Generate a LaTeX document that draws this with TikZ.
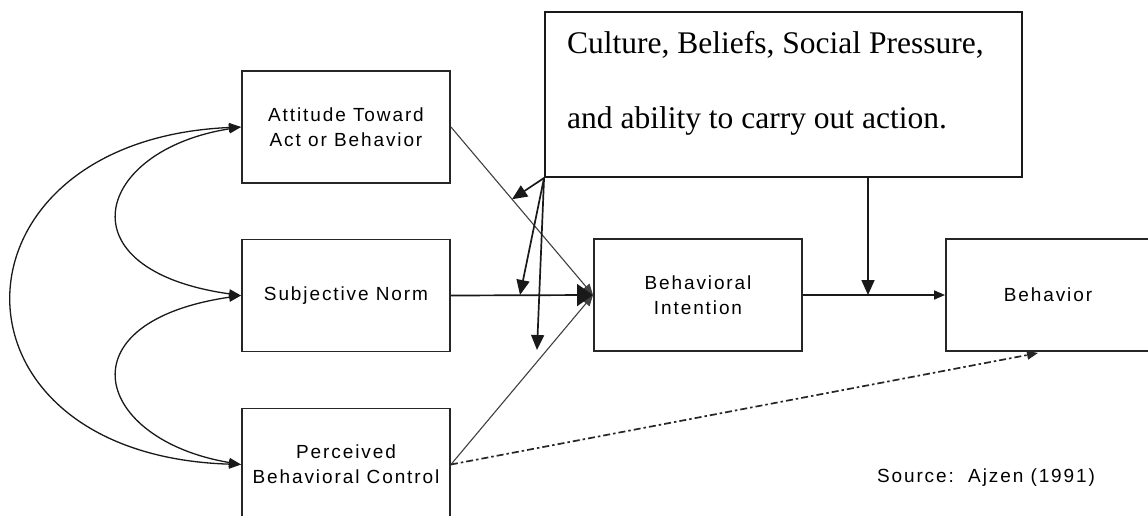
\documentclass[tikz,border=0pt]{standalone}
\usepackage{fontspec}
\setmainfont{Liberation Serif}
\newfontfamily\labelfont{Liberation Sans}[LetterSpace=10]
\usetikzlibrary{arrows.meta,calc}
\begin{document}
\begin{tikzpicture}[x=1pt,y=-1pt,
  box/.style={draw=black!85, line width=1.9pt, rectangle, inner sep=0pt,
    font=\labelfont\fontsize{19}{25}\selectfont, align=center,
    minimum width=208pt, minimum height=112pt},
  link/.style={line width=1.7pt, draw=black!90},
  faint/.style={line width=1.1pt, draw=black!75},
  curve/.style={line width=1.3pt, draw=black!90,
    {Triangle[length=12pt,width=9pt]}-{Triangle[length=12pt,width=9pt]}},
  smalltip/.style={-{Triangle[length=11pt,width=9pt]}},
  bigtip/.style={-{Triangle[length=15pt,width=13pt]}},
  blobtip/.style={-{Triangle[length=16pt,width=22pt]}},
  dotdash/.style={line width=1.7pt, draw=black!85,
    dash pattern=on 7pt off 3pt on 2.5pt off 3pt},
  caption/.style={font=\labelfont\fontsize{19}{25}\selectfont, inner sep=0pt}
]
\clip (0,0) rectangle (1148,516);
\fill[white] (0,0) rectangle (1148,516);

% the five model constructs
\node[box] (att) at (346,127) {Attitude Toward\\Act or Behavior};
\node[box] (sub) at (346,295.5) {Subjective Norm};
\node[box] (pbc) at (346,464.5) {Perceived\\Behavioral Control};
\node[box] (bi) at (698,295) {Behavioral\\Intention};
\node[box, minimum width=204pt] (beh) at (1048,295) {Behavior};

% external influences box
\node[draw=black!90, line width=1.9pt, rectangle, inner sep=0pt,
      minimum width=477pt, minimum height=165pt] (cul) at (783.5,94.5) {};
\node[anchor=north west, align=left, inner sep=0pt,
      font=\fontsize{31.5}{75}\selectfont] (cultxt) at (567,31)
  {Culture, Beliefs, Social Pressure,\\and ability to carry out action.};

% source note
\node[caption] (src) at (986,478) {Source:\ \ Ajzen (1991)};

% correlations among the antecedents
\draw[curve] (att.west) .. controls (95,150) and (60,270) .. (sub.west);
\draw[curve] (sub.west) .. controls (60,322) and (95,440) .. (pbc.west);
\draw[curve] (att.west) .. controls (-60,140) and (-67,455) .. (pbc.west);

% antecedents to intention
\draw[faint, smalltip] (att.east) -- (bi.west);
\draw[faint, smalltip] (pbc.east) -- (bi.west);
\draw[link, blobtip] (sub.east) -- (bi.west);

% intention to behaviour, and direct path of control
\draw[link, smalltip] (bi.east) -- (beh.west);
\coordinate (dtip) at (1038,353);
\draw[dotdash, smalltip] (pbc.east) -- (dtip);

% influences of the external factors
\coordinate (corner) at (cul.south west);
\coordinate (t1) at ($(att.east)!0.43!(bi.west)$);
\coordinate (t2) at (520,295);
\coordinate (t3) at (537,350);
\draw[link, bigtip] (corner) -- (t1);
\draw[link, bigtip] (corner) -- (t2);
\draw[link, bigtip] (corner) -- (t3);
\coordinate (vtop) at (868,177);
\coordinate (vtip) at (868,295);
\draw[link, bigtip] (vtop) -- (vtip);
\end{tikzpicture}
\end{document}
